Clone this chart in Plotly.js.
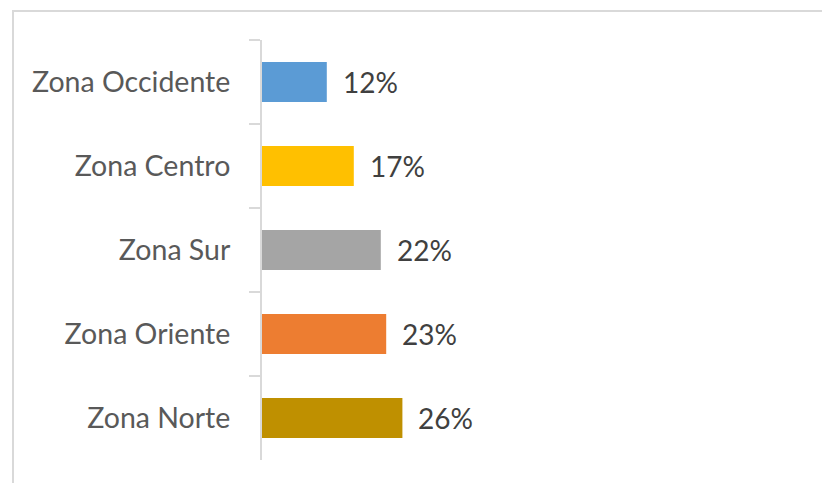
<!DOCTYPE html>
<html>
<head>
<meta charset="utf-8">
<script src="https://cdn.plot.ly/plotly-3.0.1.min.js"></script>
<style>
html,body{margin:0;padding:0;background:#fff;}
#wrap{position:relative;width:822px;height:483px;overflow:hidden;}
#chart{position:absolute;left:0;top:0;width:822px;height:483px;}
#frame{position:absolute;left:12px;top:10px;width:1200px;height:800px;border-left:2px solid #d9d9d9;border-top:2px solid #d9d9d9;pointer-events:none;}
</style>
</head>
<body>
<div id="wrap"><div id="chart"></div><div id="frame"></div></div>
<script>
const categories = ["Zona Occidente", "Zona Centro", "Zona Sur", "Zona Oriente", "Zona Norte"];
const values = [12, 17, 22, 23, 26];
const valueLabels = ["12%", "17%", "22%", "23%", "26%"];
const barColors = ["#5b9bd5", "#ffc000", "#a5a5a5", "#ed7d31", "#bf9000"];

const trace = {
  type: "bar",
  orientation: "h",
  x: values,
  y: categories,
  marker: {color: barColors, line: {width: 0}},
  hoverinfo: "none"
};

const annotations = values.map((v, i) => ({
  x: v, y: categories[i], xref: "x", yref: "y",
  text: valueLabels[i], showarrow: false,
  xanchor: "left", yanchor: "middle", xshift: 14,
  font: {family: "Lato, 'Open Sans', sans-serif", size: 28, color: "#404040"}
}));

const layout = {
  width: 822, height: 483,
  margin: {l: 262, r: 20, t: 40, b: 23, pad: 0},
  paper_bgcolor: "#ffffff",
  plot_bgcolor: "#ffffff",
  showlegend: false,
  bargap: 0.524,
  xaxis: {range: [0, 100], visible: false, showgrid: false, zeroline: false},
  yaxis: {
    autorange: "reversed",
    type: "category",
    showline: true, linecolor: "#d9d9d9", linewidth: 2,
    ticks: "outside", tickson: "boundaries", ticklen: 11, tickcolor: "#d9d9d9", tickwidth: 2,
    ticklabelstandoff: 24,
    showgrid: false, zeroline: false,
    tickfont: {family: "Lato, 'Open Sans', sans-serif", size: 28.5, color: "#595959"}
  },
  annotations: annotations
};

Plotly.newPlot("chart", [trace], layout, {displayModeBar: false, staticPlot: true});
</script>
</body>
</html>
